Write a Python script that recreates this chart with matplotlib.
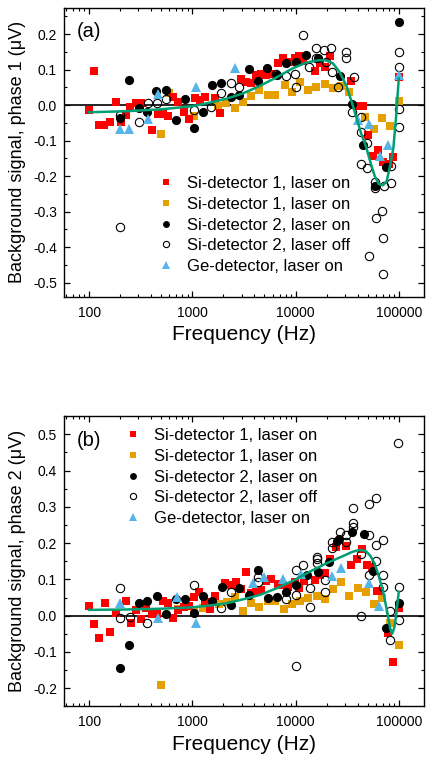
import numpy as np
import matplotlib
matplotlib.use('Agg')
import matplotlib.pyplot as plt
from matplotlib.ticker import FixedLocator, FixedFormatter, MultipleLocator, NullFormatter

plt.rcParams['font.family'] = ['Liberation Sans', 'DejaVu Sans']

# ---------------- data: panel (a), phase 1 ----------------
a_red_f = [100, 112, 125, 140, 158, 181, 202, 230, 248, 287, 321, 410, 466, 520, 582, 650, 727, 824, 929,
           1054, 1177, 1315, 1644, 1840, 2978, 3333, 3725, 4160, 4655, 5200, 5820, 6745, 7540, 8710, 9770,
           10770, 11780, 15290, 17080, 19090, 21640, 34600, 40100, 44900, 50200, 56000, 62700, 70000, 80000,
           87500, 100000]
a_red_v = [-0.014, 0.097, -0.057, -0.057, -0.047, 0.008, -0.047, -0.028, -0.005, 0.007, 0.007, -0.069, -0.026,
           -0.026, -0.031, 0.022, 0.009, -0.019, -0.038, 0.019, 0.014, 0.022, 0.021, -0.022, 0.075, 0.066, 0.063,
           0.085, 0.088, 0.085, 0.089, 0.118, 0.132, 0.122, 0.132, 0.138, 0.125, 0.097, 0.118, 0.108, 0.138,
           0.068, -0.003, -0.003, -0.085, -0.144, -0.125, -0.16, -0.165, -0.146, 0.078]

a_orange_f = [500, 594, 1037, 1770, 2140, 2570, 3100, 3700, 4470, 5370, 6390, 7830, 9230, 10940, 13160, 15850,
              19090, 22960, 27660, 33000, 47500, 57300, 69000, 83000, 100000]
a_orange_v = [-0.082, 0.033, -0.031, -0.003, 0.005, -0.009, 0.009, 0.025, 0.042, 0.03, 0.03, 0.056, 0.038,
              0.066, 0.042, 0.05, 0.059, 0.048, 0.054, 0.038, -0.033, -0.066, -0.036, -0.059, 0.012]

a_black_f = [198, 244, 302, 366, 449, 560, 690, 843, 1030, 1260, 1548, 1892, 2365, 2850, 3530, 4310, 5280, 6590,
             8130, 10150, 12670, 16440, 27000, 35300, 44900, 58200, 75300, 100000]
a_black_v = [-0.036, 0.071, -0.009, -0.019, 0.040, 0.042, -0.042, 0.016, -0.063, -0.019, 0.058, 0.063, 0.024,
             0.028, 0.102, 0.069, 0.104, 0.085, 0.12, 0.122, 0.141, 0.132, 0.082, 0.002, -0.113, -0.229, -0.174,
             0.233]

a_open_f = [198, 198, 302, 372, 452, 560, 1038, 1520, 1900, 2370, 2850, 6500, 8100, 9800, 10000, 11780, 13600,
            15800, 15800, 19000, 19700, 22000, 22600, 26000, 31000, 31000, 35600, 37000, 43000, 43000, 43000,
            49000, 49000, 51000, 59000, 59000, 60000, 69000, 70000, 70000, 72000, 84000, 84000,
            100000, 100000, 100000, 100000]
a_open_v = [-0.028, -0.344, -0.047, 0.005, 0.007, 0.016, -0.014, -0.005, 0.033, 0.063, 0.052, 0.089, 0.082,
            0.089, 0.052, 0.198, 0.108, 0.162, 0.134, 0.155, 0.122, 0.162, 0.094, 0.052, 0.151, 0.134, -0.019,
            0.08, -0.033, -0.075, -0.165, -0.108, -0.176, -0.424, -0.217, -0.234, -0.317, -0.299, -0.374,
            -0.477, -0.229, -0.219, -0.172, 0.151, 0.108, -0.01, -0.061]

a_ge_f = [198, 244, 372, 465, 1094, 2570, 40000, 51300, 66000, 79500, 100000]
a_ge_v = [-0.066, -0.066, -0.038, 0.031, 0.05, 0.104, -0.042, -0.054, -0.144, -0.113, 0.085]

a_fit_f = [100, 230, 483, 1000, 1473, 2133, 3090, 4487, 6500, 9420, 12680, 17060, 19800, 22970, 26660, 30940,
           34580, 38660, 43200, 48300, 53000, 58500, 64000, 70000, 76300, 82400, 88700, 94000, 100000]
a_fit_v = [-0.020, -0.017, -0.012, -0.003, 0.007, 0.018, 0.033, 0.054, 0.078, 0.104, 0.120, 0.127, 0.126,
           0.118, 0.094, 0.056, 0.014, -0.033, -0.080, -0.118, -0.160, -0.200, -0.222, -0.226, -0.215, -0.170,
           -0.120, -0.035, 0.075]

# ---------------- data: panel (b), phase 2 ----------------
b_red_f = [100, 112, 125, 142, 158, 181, 226, 253, 287, 320, 358, 410, 458, 520, 582, 650, 727, 822, 930, 1038,
           1160, 1315, 1470, 1644, 2050, 2370, 2620, 2970, 3330, 3730, 4160, 4650, 5200, 5830, 6740, 7540, 8430,
           9780, 10770, 12200, 15300, 17100, 19500, 21700, 24500, 30500, 34600, 39400, 44000, 49000, 55000,
           61000, 66000, 78400, 87000, 100000]
b_red_v = [0.027, -0.023, -0.062, 0.034, -0.046, 0.006, 0.041, -0.019, 0.016, -0.008, 0.02, 0.005, 0.005, 0.041,
           0.034, -0.006, 0.016, 0.023, 0.027, 0.052, 0.066, 0.039, 0.017, 0.054, 0.091, 0.085, 0.094, 0.073,
           0.121, 0.062, 0.066, 0.071, 0.096, 0.1, 0.087, 0.085, 0.08, 0.094, 0.075, 0.096, 0.098, 0.112, 0.117,
           0.155, 0.19, 0.192, 0.141, 0.155, 0.183, 0.141, 0.135, 0.068, 0.068, -0.049, -0.127, 0.02]

b_orange_f = [500, 727, 1038, 1270, 1470, 1800, 2150, 2570, 3100, 3730, 4470, 5370, 6390, 7700, 9200, 11100,
              13300, 16000, 19200, 23000, 27600, 33000, 40000, 48000, 57000, 69000, 83000, 100000]
b_orange_v = [-0.191, 0.017, 0.016, 0.02, 0.02, 0.031, 0.039, 0.052, 0.014, 0.036, 0.023, 0.04, 0.04, 0.017,
              0.031, 0.04, 0.05, 0.054, 0.045, 0.073, 0.092, 0.054, 0.077, 0.064, 0.031, 0.05, -0.019, -0.081]

b_black_f = [198, 244, 302, 366, 455, 560, 690, 843, 1038, 1270, 1560, 1940, 2350, 2860, 3530, 4370, 5400, 6590,
             8100, 10100, 12800, 16400, 21300, 25000, 26500, 35600, 45600, 55900, 75300, 100000]
b_black_v = [-0.145, -0.081, 0.034, 0.041, 0.054, 0.005, 0.045, 0.046, 0.008, 0.054, 0.041, 0.08, 0.029, 0.077,
             0.057, 0.126, 0.048, 0.052, 0.066, 0.085, 0.112, 0.121, 0.149, 0.205, 0.211, 0.231, 0.224, 0.124,
             -0.035, 0.034]

b_open_f = [198, 198, 247, 366, 1038, 1900, 2350, 4370, 4370, 8100, 10000, 10000, 10000, 11800, 13900, 13900,
            16000, 16000, 16000, 19200, 19200, 22600, 22600, 27000, 31000, 31000, 36300, 36300, 36300, 42800,
            42800, 51000, 51000, 51000, 60500, 60500, 60500, 70000, 70000, 70000, 83000, 83000, 99000, 100000,
            100000]
b_open_v = [0.075, -0.007, -0.003, -0.021, 0.084, 0.02, 0.066, 0.107, 0.094, 0.045, 0.126, 0.057, -0.139, 0.14,
            0.075, 0.023, 0.163, 0.155, 0.145, 0.098, 0.066, 0.186, 0.204, 0.231, 0.222, 0.204, 0.245, 0.298,
            0.255, -0.001, 0.17, 0.222, 0.307, 0.112, 0.195, 0.15, 0.323, 0.209, 0.112, 0.08, 0.014, -0.067,
            0.477, 0.08, -0.012]

b_ge_f = [198, 465, 715, 1094, 3850, 4900, 7600, 11300, 22500, 27600, 52000, 65000]
b_ge_v = [0.034, -0.006, 0.051, -0.019, 0.089, 0.107, 0.1, 0.115, 0.109, 0.132, 0.089, 0.027]

b_fit_f = [100, 230, 483, 1000, 1473, 2133, 3090, 4487, 6500, 9420, 13700, 19800, 28700, 35600, 40000, 43200,
           48300, 53000, 58000, 62700, 70000, 78300, 82400, 86100, 90100, 94200, 100000]
b_fit_v = [0.016, 0.017, 0.019, 0.023, 0.028, 0.034, 0.045, 0.057, 0.075, 0.096, 0.121, 0.144, 0.164, 0.176,
           0.180, 0.181, 0.177, 0.165, 0.145, 0.117, 0.071, 0.002, -0.035, -0.050, -0.035, 0.0, 0.066]

labels = ['Si-detector 1, laser on', 'Si-detector 1, laser on', 'Si-detector 2, laser on',
          'Si-detector 2, laser off', 'Ge-detector, laser on']
xticks = [100, 1000, 10000, 100000]
xticklabels = ['100', '1000', '10000', '100000']

RED = '#FF0000'
ORANGE = '#E69F00'
BLUE = '#56B4E9'
GREEN = '#009E73'

fig = plt.figure(figsize=(4.26, 7.59), dpi=100)
axa = fig.add_axes([0.150, 0.609, 0.845, 0.381])
axb = fig.add_axes([0.150, 0.0698, 0.845, 0.382])


def draw(ax, data, fit, ylim, ylab, tag, leg_anchor):
    red, orange, black, openc, ge = data
    ax.axhline(0, color='black', lw=1.2, zorder=1)
    h2, = ax.plot(orange[0], orange[1], 's', color=ORANGE, ms=6.0, mew=0, zorder=2)
    h1, = ax.plot(red[0], red[1], 's', color=RED, ms=6.0, mew=0, zorder=3)
    h3, = ax.plot(black[0], black[1], 'o', color='black', ms=6.6, mew=0, zorder=3)
    h4, = ax.plot(openc[0], openc[1], 'o', mfc='none', mec='black', ms=6.0, mew=0.8, zorder=3)
    h5, = ax.plot(ge[0], ge[1], '^', color=BLUE, ms=7.0, mew=0, zorder=3)
    ax.plot(fit[0], fit[1], '-', color=GREEN, lw=1.8, zorder=4)
    ax.set_xscale('log')
    ax.set_xlim(57, 175000)
    ax.set_ylim(*ylim)
    ax.xaxis.set_major_locator(FixedLocator(xticks))
    ax.xaxis.set_major_formatter(FixedFormatter(xticklabels))
    minors = [m * 10 ** e for e in range(1, 6) for m in range(2, 10)]
    ax.xaxis.set_minor_locator(FixedLocator(minors))
    ax.xaxis.set_minor_formatter(NullFormatter())
    ax.yaxis.set_major_locator(MultipleLocator(0.1))
    ax.yaxis.set_minor_locator(MultipleLocator(0.05))
    ax.yaxis.set_major_formatter(matplotlib.ticker.FuncFormatter(lambda v, p: f'{v:.1f}'.replace('-0.0', '0.0')))
    ax.tick_params(which='both', direction='in', top=True, right=True, labelsize=10, pad=5)
    ax.tick_params(which='major', length=4, width=0.9)
    ax.tick_params(which='minor', length=2.2, width=0.8)
    ax.tick_params(axis='x', pad=6.5)
    for s in ax.spines.values():
        s.set_linewidth(1.0)
    ax.set_xlabel('Frequency (Hz)', fontsize=15, labelpad=4)
    ax.set_ylabel(ylab, fontsize=13)
    ax.yaxis.set_label_coords(-0.105, 0.5)
    ax.text(0.037, 0.917, tag, transform=ax.transAxes, fontsize=14.5, va='center', ha='left')
    ax.legend([h1, h2, h3, h4, h5], labels, loc='upper left', bbox_to_anchor=leg_anchor, frameon=False,
              fontsize=12, handlelength=1.0, handletextpad=0.75, labelspacing=0.34, borderpad=0,
              borderaxespad=0, markerscale=0.75)


draw(axa, [(a_red_f, a_red_v), (a_orange_f, a_orange_v), (a_black_f, a_black_v), (a_open_f, a_open_v),
           (a_ge_f, a_ge_v)], (a_fit_f, a_fit_v), (-0.54, 0.275),
     'Background signal, phase 1 (\u03bcV)', '(a)', (0.260, 0.417))
draw(axb, [(b_red_f, b_red_v), (b_orange_f, b_orange_v), (b_black_f, b_black_v), (b_open_f, b_open_v),
           (b_ge_f, b_ge_v)], (b_fit_f, b_fit_v), (-0.249, 0.55),
     'Background signal, phase 2 (\u03bcV)', '(b)', (0.168, 0.958))

fig.savefig('out.png', dpi=100)
